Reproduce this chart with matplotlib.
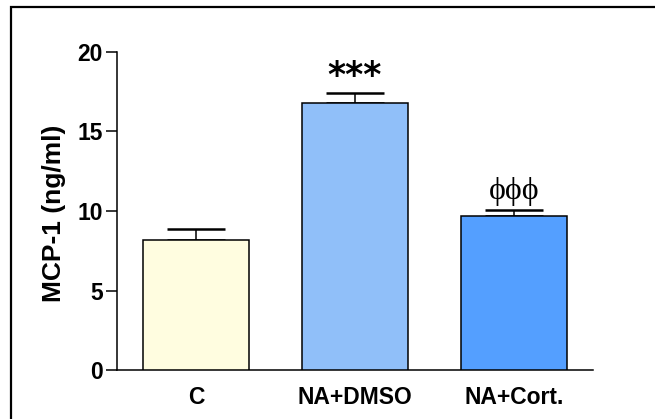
import matplotlib
matplotlib.use("Agg")
import matplotlib.pyplot as plt
from matplotlib.patches import Rectangle

categories = ["C", "NA+DMSO", "NA+Cort."]
means = [8.2, 16.76, 9.67]
sems = [0.67, 0.67, 0.40]
colors = ["#FFFDE0", "#90BFF9", "#549FFF"]
annotations = ["", "***", "\u03d5\u03d5\u03d5"]
y_ticks = [0, 5, 10, 15, 20]

fig = plt.figure(figsize=(6.55, 4.19), dpi=100)
fig.patches.append(Rectangle((11/655, -0.1), 1.2, (1 - 7/419) + 0.1, transform=fig.transFigure,
                             fill=False, edgecolor="black", linewidth=1.6))
ax = fig.add_axes([116.7/655, 1 - 370.3/419, (593.3-116.7)/655, (370.3-51.7)/419])

x = list(range(len(categories)))
ax.bar(x, means, width=0.665, color=colors, edgecolor="black", linewidth=1.1, zorder=3)
ax.errorbar(x, means, yerr=[[0]*len(sems), sems], fmt="none", ecolor="black",
            elinewidth=1.1, capsize=20.7, capthick=1.8, zorder=2)

ax.text(1, 18.45, annotations[1], ha="center", va="center", fontsize=25,
        fontweight="bold", family="DejaVu Sans")
ax.text(2, 11.2, annotations[2], ha="center", va="center", fontsize=23,
        family="Liberation Serif")

ax.set_xlim(-0.5, 2.5)
ax.set_ylim(0, 20)
ax.set_yticks(y_ticks)
ax.set_xticks(x)
ax.set_xticklabels(categories, fontsize=16.5, fontweight="bold", family="Liberation Sans")
for lab in ax.get_yticklabels():
    lab.set_fontsize(16.5)
    lab.set_fontweight("bold")
    lab.set_family("Liberation Sans")
ax.tick_params(axis="y", direction="out", length=8, width=1.1, pad=2)
ax.tick_params(axis="x", length=0, pad=11)
for s in ["top", "right"]:
    ax.spines[s].set_visible(False)
for s in ["left", "bottom"]:
    ax.spines[s].set_linewidth(1.1)
ax.set_ylabel("MCP-1 (ng/ml)", fontsize=19, fontweight="bold", family="Liberation Sans")
ax.yaxis.set_label_coords((66 - 116.7) / (593.3 - 116.7), (370.3 - 213) / (370.3 - 51.7))

fig.savefig("out.png", dpi=100)
